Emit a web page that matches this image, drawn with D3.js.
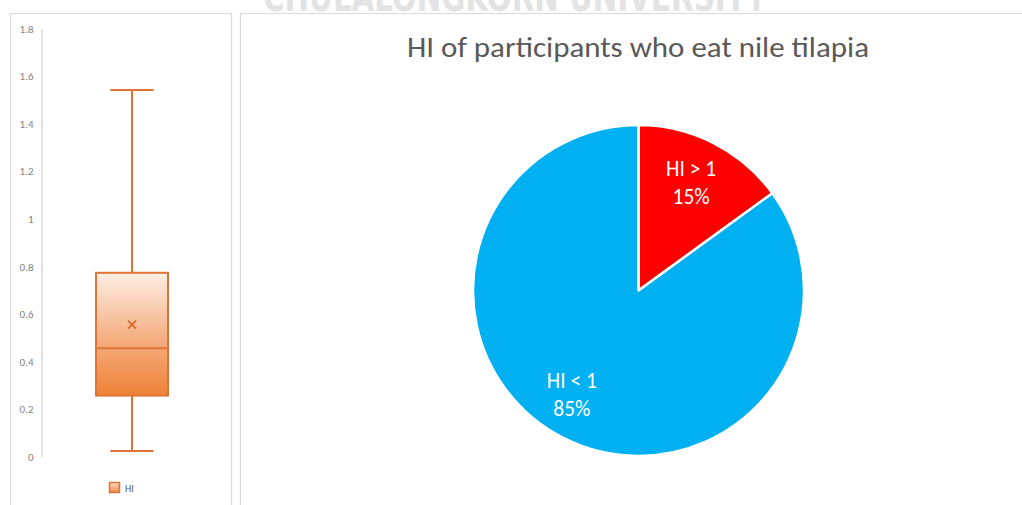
<!DOCTYPE html>
<html>
<head>
<meta charset="utf-8">
<script src="https://cdn.jsdelivr.net/npm/d3@7"></script>
<style>
  html, body { margin: 0; padding: 0; background: #ffffff; }
  svg { display: block; }
</style>
</head>
<body>
<svg id="chart" width="1022" height="505"></svg>
<script>
// ---- data ----
const yTicks = [0, 0.2, 0.4, 0.6, 0.8, 1, 1.2, 1.4, 1.6, 1.8];
const boxSeries = ["HI"];
const boxMin = [0.025];
const boxQ1 = [0.258];
const boxMedian = [0.457];
const boxQ3 = [0.774];
const boxMax = [1.542];
const boxMean = [0.556];

const pieCategories = ["HI > 1", "HI < 1"];
const pieValues = [15, 85];
const pieColors = ["#ff0000", "#00b0f0"];

const chartTitle = "HI of participants who eat nile tilapia";
const bannerText = "CHULALONGKORN UNIVERSITY";

const FONT = "Carlito, Lato, 'Open Sans', sans-serif";
const svg = d3.select("#chart");

// ---- banner text across the top, mostly above the page edge ----
svg.append("text")
  .attr("x", 263).attr("y", 11)
  .attr("textLength", 504).attr("lengthAdjust", "spacingAndGlyphs")
  .attr("font-family", "'Liberation Sans Narrow', 'DejaVu Sans Condensed', 'Liberation Sans', sans-serif")
  .attr("font-weight", "bold").attr("font-size", 40)
  .attr("fill", "#e3e3e3")
  .text(bannerText);

// ---- panel frames ----
const frame = svg.append("g").attr("fill", "none").attr("stroke", "#d9d9d9").attr("stroke-width", 1.2);
frame.append("path").attr("d", "M10.5,510 V13.5 H231.5 V510");
frame.append("path").attr("d", "M240.5,510 V13.5 H1030");

// ---- box plot ----
const y = d3.scaleLinear().domain([0, 1.8]).range([457, 28.6]);
const x = d3.scaleBand().domain(boxSeries).range([42, 222]).paddingInner(0).paddingOuter(0);

const yAxis = d3.axisLeft(y).tickValues(yTicks).tickSize(0).tickPadding(8)
  .tickFormat(d => String(d));
const gy = svg.append("g").attr("transform", "translate(41.5,0)").call(yAxis);
gy.select(".domain").attr("stroke", "#d9d9d9").attr("stroke-width", 1.5);
gy.selectAll("text").attr("font-family", FONT).attr("font-size", 11).attr("fill", "#7f7f7f");

const defs = svg.append("defs");
const grad = defs.append("linearGradient").attr("id", "boxFill")
  .attr("x1", 0).attr("y1", 0).attr("x2", 0).attr("y2", 1);
grad.append("stop").attr("offset", "0%").attr("stop-color", "#fdeee4");
grad.append("stop").attr("offset", "55%").attr("stop-color", "#f4ad7f");
grad.append("stop").attr("offset", "100%").attr("stop-color", "#ee8137");

const legGrad = defs.append("linearGradient").attr("id", "legFill")
  .attr("x1", 0).attr("y1", 0).attr("x2", 0).attr("y2", 1);
legGrad.append("stop").attr("offset", "0%").attr("stop-color", "#fbd9c2");
legGrad.append("stop").attr("offset", "100%").attr("stop-color", "#ef8a45");

const stroke = "#dd7435";
const boxG = svg.append("g");
boxSeries.forEach((s, i) => {
  const cx = x(s) + x.bandwidth() / 2;
  const bw = x.bandwidth() * 0.4;
  const capW = bw * 0.3;
  // whiskers
  boxG.append("line").attr("x1", cx).attr("x2", cx).attr("y1", y(boxMax[i])).attr("y2", y(boxQ3[i]))
    .attr("stroke", stroke).attr("stroke-width", 2);
  boxG.append("line").attr("x1", cx).attr("x2", cx).attr("y1", y(boxQ1[i])).attr("y2", y(boxMin[i]))
    .attr("stroke", stroke).attr("stroke-width", 2);
  boxG.append("line").attr("x1", cx - capW).attr("x2", cx + capW).attr("y1", y(boxMax[i])).attr("y2", y(boxMax[i]))
    .attr("stroke", stroke).attr("stroke-width", 2);
  boxG.append("line").attr("x1", cx - capW).attr("x2", cx + capW).attr("y1", y(boxMin[i])).attr("y2", y(boxMin[i]))
    .attr("stroke", stroke).attr("stroke-width", 2);
  // box
  boxG.append("rect").attr("x", cx - bw / 2).attr("y", y(boxQ3[i]))
    .attr("width", bw).attr("height", y(boxQ1[i]) - y(boxQ3[i]))
    .attr("fill", "url(#boxFill)").attr("stroke", stroke).attr("stroke-width", 2);
  // median
  boxG.append("line").attr("x1", cx - bw / 2).attr("x2", cx + bw / 2)
    .attr("y1", y(boxMedian[i])).attr("y2", y(boxMedian[i]))
    .attr("stroke", stroke).attr("stroke-width", 2);
  // mean marker
  const m = 4;
  const my = y(boxMean[i]);
  boxG.append("path").attr("d", `M${cx - m},${my - m}L${cx + m},${my + m}M${cx - m},${my + m}L${cx + m},${my - m}`)
    .attr("stroke", "#d86a2a").attr("stroke-width", 1.8).attr("fill", "none");
});

// legend
const leg = svg.append("g").attr("transform", "translate(109,482)");
leg.append("rect").attr("x", 0.5).attr("y", 0.5).attr("width", 10).attr("height", 10)
  .attr("fill", "url(#legFill)").attr("stroke", stroke).attr("stroke-width", 1.5);
leg.append("text").attr("x", 16).attr("y", 9.5)
  .attr("font-family", FONT).attr("font-size", 10).attr("fill", "#595959").text(boxSeries[0]);

// ---- pie chart ----
svg.append("text")
  .attr("x", 638).attr("y", 57).attr("text-anchor", "middle")
  .attr("textLength", 462).attr("lengthAdjust", "spacingAndGlyphs")
  .attr("font-family", FONT).attr("font-weight", 300).attr("font-size", 29).attr("fill", "#595959")
  .text(chartTitle);

const cx = 638.5, cy = 290.5, r = 165.5;
const pie = d3.pie().sort(null).value(d => d.value);
const arcs = pie(pieCategories.map((c, i) => ({ name: c, value: pieValues[i], color: pieColors[i] })));
const arc = d3.arc().innerRadius(0).outerRadius(r);
const labelArc = d3.arc().innerRadius(r * 0.74).outerRadius(r * 0.74);
// small nudges applied on top of the centroid placement of each label
const labelNudge = [[-3, 0], [-11, -6]];

const pg = svg.append("g").attr("transform", `translate(${cx},${cy})`);
pg.selectAll("path.slice").data(arcs).join("path").attr("class", "slice")
  .attr("d", arc).attr("fill", d => d.data.color)
  .attr("stroke", "#ffffff").attr("stroke-width", 2.5).attr("stroke-linejoin", "round");

const total = d3.sum(pieValues);
const labels = pg.selectAll("text.lbl").data(arcs).join("text").attr("class", "lbl")
  .attr("transform", (d, i) => {
    const c = labelArc.centroid(d);
    return `translate(${c[0] + labelNudge[i][0]},${c[1] + labelNudge[i][1]})`;
  })
  .attr("text-anchor", "middle")
  .attr("font-family", FONT).attr("font-weight", 300).attr("font-size", 21.5).attr("fill", "#ffffff");
labels.append("tspan").attr("x", 0).attr("dy", "-0.25em").text(d => d.data.name);
labels.append("tspan").attr("x", 0).attr("dy", "1.3em")
  .text(d => Math.round(d.data.value / total * 100) + "%");
</script>
</body>
</html>
